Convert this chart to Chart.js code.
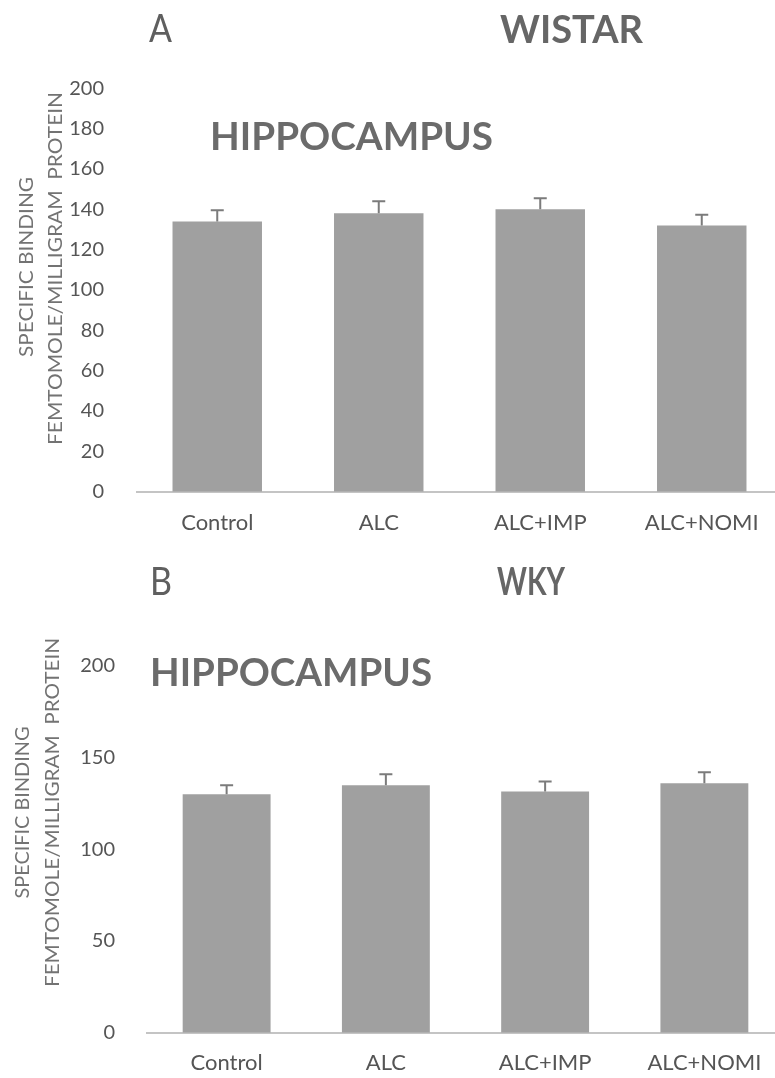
<!DOCTYPE html>
<html>
<head>
<meta charset="utf-8">
<script src="https://cdn.jsdelivr.net/npm/chart.js@4.4.1/dist/chart.umd.min.js"></script>
<style>
  html, body { margin: 0; padding: 0; background: #fff; overflow: hidden; width: 775px; height: 1078px; }
  canvas { position: absolute; left: 0; display: block; }
  #wistar { top: 0; }
  #wky { top: 560px; }
</style>
</head>
<body>
<canvas id="wistar" width="800" height="560"></canvas>
<canvas id="wky" width="800" height="518"></canvas>
<script>
// Treatment groups
const groups = ['Control', 'ALC', 'ALC+IMP', 'ALC+NOMI'];

// Wistar hippocampus: specific binding (fmol/mg protein) and SEM
const wistarBinding = [134, 138, 140, 132];
const wistarError = [5.5, 6, 5.5, 5.3];

// WKY hippocampus: specific binding (fmol/mg protein) and SEM
const wkyBinding = [130, 135, 131.5, 136];
const wkyError = [5, 6, 5.5, 6];

// Y-axis tick values
const wistarTicks = [0, 20, 40, 60, 80, 100, 120, 140, 160, 180, 200];
const wkyTicks = [0, 50, 100, 150, 200];

const axisTitle = ['SPECIFIC BINDING', 'FEMTOMOLE/MILLIGRAM  PROTEIN'];

const FONT = 'Lato, "Open Sans", sans-serif';
const CAP = 0.7165; // Lato cap height / em

// Upper (positive) error bars with a small cap
const errorBars = {
  id: 'errorBars',
  afterDatasetsDraw(chart, args, opts) {
    const { ctx } = chart;
    const y = chart.scales.y;
    chart.data.datasets.forEach((ds, di) => {
      chart.getDatasetMeta(di).data.forEach((bar, i) => {
        const top = y.getPixelForValue(ds.data[i] + ds.errors[i]);
        ctx.save();
        ctx.strokeStyle = opts.color;
        ctx.lineWidth = opts.width;
        ctx.beginPath();
        ctx.moveTo(bar.x, bar.y);
        ctx.lineTo(bar.x, top);
        ctx.moveTo(bar.x - opts.cap / 2, top);
        ctx.lineTo(bar.x + opts.cap / 2, top);
        ctx.stroke();
        ctx.restore();
      });
    });
  }
};

// Panel letters, strain names, region names and the y-axis title
const captions = {
  id: 'captions',
  afterDraw(chart, args, opts) {
    const ctx = chart.ctx;
    opts.items.forEach(it => {
      ctx.save();
      ctx.font = `${it.weight || 'normal'} ${it.size}px ${FONT}`;
      ctx.fillStyle = it.color;
      ctx.textBaseline = 'alphabetic';
      ctx.textAlign = it.align || 'left';
      const w = ctx.measureText(it.text).width;
      const sx = it.width ? it.width / w : 1;
      ctx.translate(it.x, it.y);
      if (it.rotate) ctx.rotate(it.rotate);
      ctx.scale(sx, 1);
      ctx.fillText(it.text, 0, 0);
      ctx.restore();
    });
  }
};

function titleItems(g) {
  // two rotated lines, x = line centre, cy = vertical centre
  const size = 19, half = size * CAP / 2;
  return [
    { text: axisTitle[0], x: g.line1x + half, y: g.line1cy, width: g.line1len, size, color: '#737373', rotate: -Math.PI / 2, align: 'center' },
    { text: axisTitle[1], x: g.line2x + half, y: g.line2cy, width: g.line2len, size, color: '#737373', rotate: -Math.PI / 2, align: 'center' }
  ];
}

function makeChart(id, values, errors, ticks, g, items) {
  const canvas = document.getElementById(id);
  return new Chart(canvas, {
    type: 'bar',
    data: {
      labels: groups,
      datasets: [{
        data: values,
        errors: errors,
        backgroundColor: '#a0a0a0',
        borderWidth: 0,
        barPercentage: g.barPct,
        categoryPercentage: 1
      }]
    },
    options: {
      responsive: false,
      animation: false,
      events: [],
      layout: { padding: { top: g.top, right: g.right, left: 0, bottom: 0 } },
      plugins: {
        legend: { display: false },
        tooltip: { enabled: false },
        errorBars: { color: '#7b7b7b', width: 2, cap: 13 },
        captions: { items: items.concat(titleItems(g)) }
      },
      scales: {
        x: {
          grid: { display: false },
          border: { display: true, color: '#c4c4c4', width: 2 },
          ticks: { color: '#555555', font: { family: FONT, size: 22 }, padding: g.labelPad, maxRotation: 0 },
          afterFit(scale) { scale.height = g.xHeight; }
        },
        y: {
          min: 0,
          max: 200,
          grid: { display: false },
          border: { display: false },
          afterBuildTicks(scale) { scale.ticks = ticks.map(v => ({ value: v })); },
          ticks: { color: '#555555', font: { family: FONT, size: 20 }, padding: g.tickPad },
          afterFit(scale) { scale.width = g.axisWidth; }
        }
      }
    },
    plugins: [errorBars, captions]
  });
}

makeChart('wistar', wistarBinding, wistarError, wistarTicks,
  { top: 88.3, right: 17.5, axisWidth: 136.5, tickPad: 24.5, xHeight: 68.3, labelPad: 10, barPct: 0.554,
    line1x: 26, line1cy: 267, line1len: 180, line2x: 55, line2cy: 268.5, line2len: 353 },
  [
    { text: 'A', x: 149, y: 42, width: 23, size: 38, color: '#5f5f5f' },
    { text: 'WISTAR', x: 500, y: 43, width: 143, size: 38, weight: 'bold', color: '#666666' },
    { text: 'HIPPOCAMPUS', x: 210, y: 150, width: 283, size: 38, weight: 'bold', color: '#6b6b6b' }
  ]);

makeChart('wky', wkyBinding, wkyError, wkyTicks,
  { top: 106, right: 16, axisWidth: 147, tickPad: 24, xHeight: 45.3, labelPad: 9.5, barPct: 0.552,
    line1x: 22.5, line1cy: 252.5, line1len: 172, line2x: 51.7, line2cy: 252.5, line2len: 349 },
  [
    { text: 'B', x: 150, y: 35, width: 22, size: 38, color: '#5f5f5f' },
    { text: 'WKY', x: 497, y: 35, width: 68, size: 38, weight: 'bold', color: '#666666' },
    { text: 'HIPPOCAMPUS', x: 150, y: 126, width: 282, size: 38, weight: 'bold', color: '#6b6b6b' }
  ]);
</script>
</body>
</html>
